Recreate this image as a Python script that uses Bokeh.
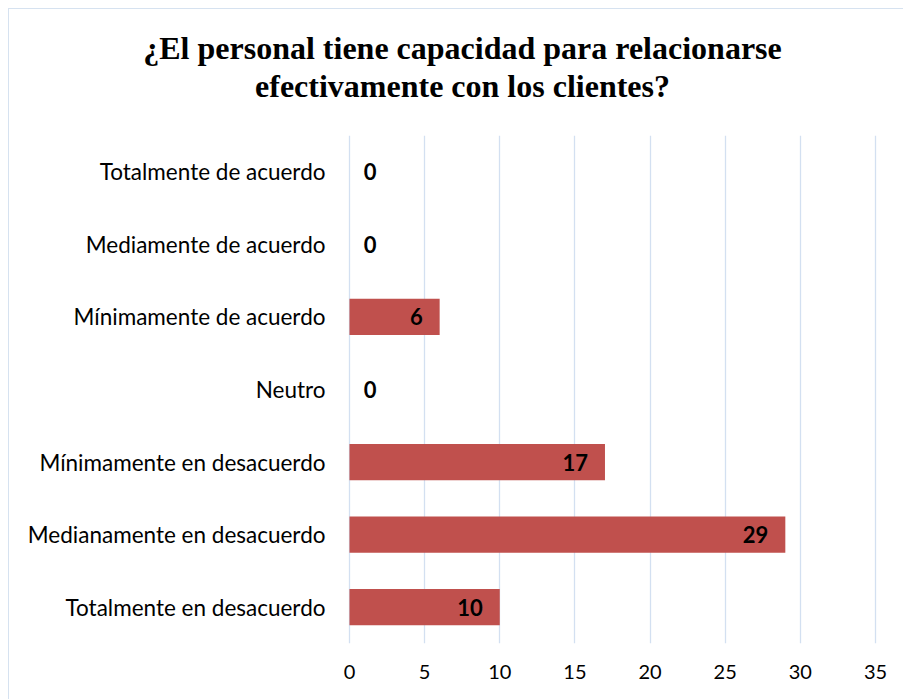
from bokeh.plotting import figure
from bokeh.models import ColumnDataSource, Range1d, FactorRange, FixedTicker, Title
from bokeh.core.properties import value
from bokeh.embed import file_html
from bokeh.resources import INLINE

title_line1 = "¿El personal tiene capacidad para relacionarse"
title_line2 = "efectivamente con los clientes?"
categories = [
    "Totalmente de acuerdo",
    "Mediamente de acuerdo",
    "Mínimamente de acuerdo",
    "Neutro",
    "Mínimamente en desacuerdo",
    "Medianamente en desacuerdo",
    "Totalmente en desacuerdo",
]
counts = [0, 0, 6, 0, 17, 29, 10]
x_ticks = [0, 5, 10, 15, 20, 25, 30, 35]

BAR = "#C0504D"
GRID = "#D3E0F1"
BORDER = "#D6E2F0"
LABEL_FONT = "Lato"

src = ColumnDataSource(dict(
    cat=categories,
    val=counts,
    lbl=[str(v) for v in counts],
    zero=[0] * len(counts),
    loff=[27 if v == 0 else -17 for v in counts],
))

p = figure(
    width=895, height=691,
    x_range=Range1d(-21.89, 36.93),
    y_range=FactorRange(factors=list(reversed(categories)), range_padding=0),
    output_backend="svg", toolbar_location=None,
    min_border_left=11, min_border_right=0, min_border_top=126, min_border_bottom=57,
)
p.styles = {"margin-left": "8px", "margin-top": "8px",
            "border-top": f"1px solid {BORDER}", "border-left": f"1px solid {BORDER}"}
p.outline_line_color = None
p.background_fill_color = "white"
p.border_fill_color = "white"

def style_title(t):
    t.align = "center"
    t.text_font = "Liberation Serif"
    t.text_font_style = "bold"
    t.text_font_size = "32px"
    t.text_color = "black"
    t.standoff = 0

# blank spacer between the title and the plot area (closest to the frame)
spacer = Title(text=" ", text_font_size="10px", standoff=19)
p.add_layout(spacer, "above")
t2 = Title(text=title_line2)
style_title(t2)
p.add_layout(t2, "above")
p.title.text = title_line1
style_title(p.title)

p.hbar(y="cat", right="val", left=0, height=0.5, source=src,
       fill_color=BAR, line_color=None)

# category labels
p.text(x="zero", y="cat", text="cat", source=src, x_offset=-24,
       text_align="right", text_baseline="middle",
       text_font=value(LABEL_FONT), text_font_size="22.5px", text_color="black")

# value labels
p.text(x="val", y="cat", text="lbl", source=src, x_offset="loff",
       text_align="right", text_baseline="middle",
       text_font=value(LABEL_FONT), text_font_size="22px", text_font_style="bold",
       text_color="black")

p.yaxis.visible = False
ticker = FixedTicker(ticks=x_ticks)
p.xaxis.ticker = ticker
p.xaxis.axis_line_color = None
p.xaxis.major_tick_line_color = None
p.xaxis.minor_tick_line_color = None
p.xaxis.major_tick_out = 0
p.xaxis.major_label_standoff = 21
p.xaxis.major_label_text_font = LABEL_FONT
p.xaxis.major_label_text_font_size = "20px"
p.xaxis.major_label_text_color = "black"

p.xgrid.ticker = ticker
p.xgrid.grid_line_color = GRID
p.xgrid.grid_line_width = 1.3
p.ygrid.visible = False

open("out.html", "w").write(file_html(p, INLINE))
